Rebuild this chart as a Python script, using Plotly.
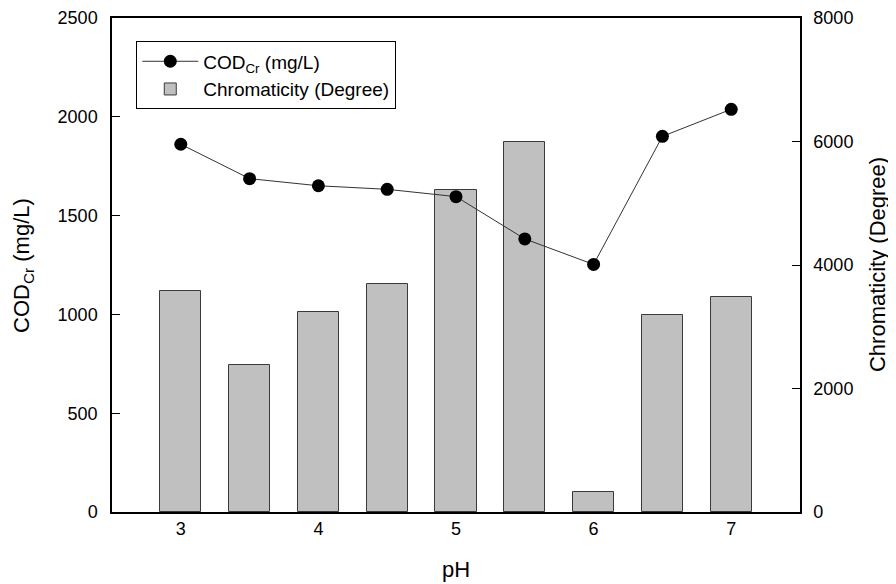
import plotly.graph_objects as go

ph = [3, 3.5, 4, 4.5, 5, 5.5, 6, 6.5, 7]
cod = [1861, 1687, 1651, 1633, 1596, 1382, 1253, 1901, 2038]
chroma = [3579, 2381, 3234, 3687, 5210, 5992, 319, 3185, 3487]
x_ticks = [3, 4, 5, 6, 7]
left_ticks = [0, 500, 1000, 1500, 2000, 2500]
right_ticks = [0, 2000, 4000, 6000, 8000]

x_title = "pH"
left_title = "COD<sub>Cr</sub> (mg/L)"
right_title = "Chromaticity (Degree)"

FONT = "Liberation Sans, Arial, sans-serif"
TICK_SIZE = 18
TITLE_SIZE = 22

fig = go.Figure()
# Bars on the primary (right-side) axis so the COD line (overlaying axis) draws on top
fig.add_trace(go.Bar(
    x=ph, y=chroma, width=0.3, name=right_title, yaxis="y",
    marker=dict(color="#c0c0c0", line=dict(color="#3a3a3a", width=1)),
    legendrank=2,
))
fig.add_trace(go.Scatter(
    x=ph, y=cod, mode="lines+markers", name=left_title, yaxis="y2",
    line=dict(color="#333333", width=1),
    marker=dict(color="black", size=13, symbol="circle"),
    legendrank=1,
))

# The page body has an 8px default margin, so the figure is sized to fit the window
fig.update_layout(
    width=888, height=576,
    margin=dict(l=104, r=96, t=10, b=72),
    paper_bgcolor="white", plot_bgcolor="white",
    font=dict(family=FONT, size=TICK_SIZE, color="black"),
    showlegend=True,
    legend=dict(
        x=0.035, y=0.953, xanchor="left", yanchor="top",
        bordercolor="black", borderwidth=1.2, bgcolor="white",
        font=dict(size=19), tracegroupgap=0, itemwidth=56,
        traceorder="normal",
    ),
    xaxis=dict(
        range=[2.5, 7.5], tickvals=x_ticks, ticktext=[str(v) for v in x_ticks],
        showline=True, linecolor="black", linewidth=1.5, mirror=True,
        ticks="", showgrid=False, zeroline=False, automargin=False,
        tickfont=dict(size=TICK_SIZE),
    ),
    yaxis=dict(
        range=[0, 8000], tickvals=right_ticks, side="right",
        showline=True, linecolor="black", linewidth=1.5,
        ticks="inside", ticklen=8, tickcolor="black", ticklabelstandoff=8,
        showgrid=False, zeroline=False, automargin=False,
        tickfont=dict(size=TICK_SIZE),
    ),
    yaxis2=dict(
        range=[0, 2500], tickvals=left_ticks, overlaying="y", side="left",
        showline=True, linecolor="black", linewidth=1.5,
        ticks="inside", ticklen=8, tickcolor="black", ticklabelstandoff=9,
        showgrid=False, zeroline=False, automargin=False,
        tickfont=dict(size=TICK_SIZE),
    ),
    bargap=0,
    annotations=[
        dict(text=x_title, xref="paper", yref="paper", x=0.5, y=-0.117,
             xanchor="center", yanchor="middle", showarrow=False,
             font=dict(size=TITLE_SIZE)),
        dict(text=left_title, xref="paper", yref="paper", x=-0.1294, y=0.5,
             xanchor="center", yanchor="middle", showarrow=False, textangle=-90,
             font=dict(size=TITLE_SIZE)),
        dict(text=right_title, xref="paper", yref="paper", x=1.112, y=0.5,
             xanchor="center", yanchor="middle", showarrow=False, textangle=-90,
             font=dict(size=TITLE_SIZE)),
    ],
)

fig.write_html("out.html")
